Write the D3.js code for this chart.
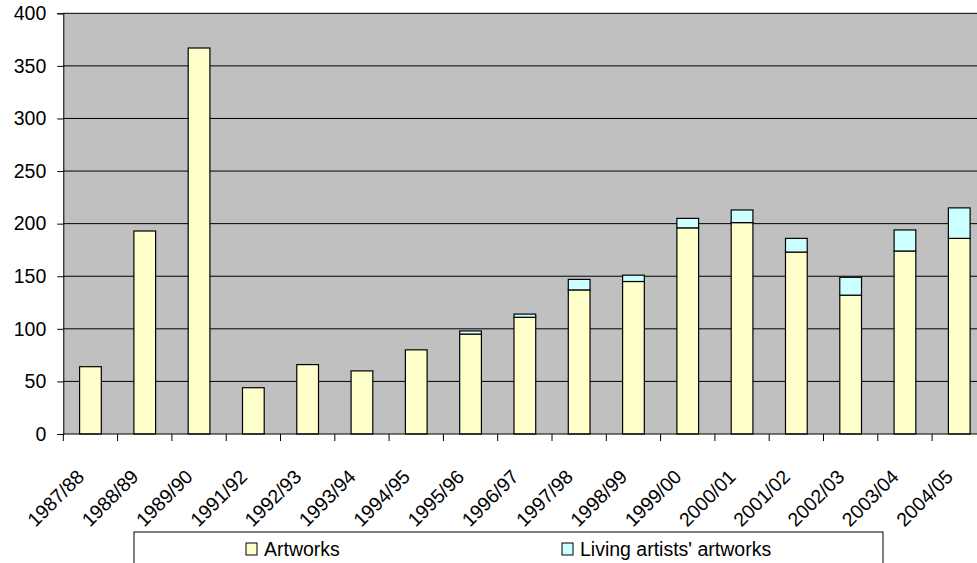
<!DOCTYPE html>
<html>
<head>
<meta charset="utf-8">
<script src="https://cdn.jsdelivr.net/npm/d3@7/dist/d3.min.js"></script>
<style>
  html, body { margin: 0; padding: 0; background: #fff; }
  svg { display: block; font-family: Arial, "Liberation Sans", sans-serif; }
</style>
</head>
<body>
<svg id="chart" width="977" height="563"></svg>
<script>
// Acquisitions per financial year
const years = ["1987/88","1988/89","1989/90","1991/92","1992/93","1993/94","1994/95",
  "1995/96","1996/97","1997/98","1998/99","1999/00","2000/01","2001/02","2002/03","2003/04","2004/05"];
const artworks = [64, 193, 367, 44, 66, 60, 80, 95, 111, 137, 145, 196, 201, 173, 132, 174, 186];
const livingArtists = [0, 0, 0, 0, 0, 0, 0, 3, 3, 10, 6, 9, 12, 13, 17, 20, 29];
const yTicks = [0, 50, 100, 150, 200, 250, 300, 350, 400];
const seriesNames = ["Artworks", "Living artists' artworks"];
const seriesColors = ["#FFFFCC", "#CCFFFF"];

const svg = d3.select("#chart");
const plot = { left: 63.3, top: 13.3, bottom: 434, right: 986.4 };

const x = d3.scaleBand().domain(years).range([plot.left, plot.right]).padding(0);
const y = d3.scaleLinear().domain([0, 400]).range([plot.bottom, plot.top]);

// plot background
svg.append("rect")
  .attr("x", plot.left).attr("y", plot.top)
  .attr("width", plot.right - plot.left).attr("height", plot.bottom - plot.top)
  .attr("fill", "#C0C0C0");

// horizontal gridlines
svg.append("g").selectAll("line").data(yTicks.filter(d => d > 0)).join("line")
  .attr("x1", plot.left).attr("x2", plot.right)
  .attr("y1", d => y(d)).attr("y2", d => y(d))
  .attr("stroke", "#000").attr("stroke-width", 1);

// stacked bars
const stackData = years.map((yr, i) => ({ year: yr, a: artworks[i], l: livingArtists[i] }));
const stack = d3.stack().keys(["a", "l"])(stackData);
const barW = x.bandwidth() * 0.4;
svg.append("g").selectAll("g").data(stack).join("g")
  .attr("fill", (d, i) => seriesColors[i])
  .selectAll("rect").data(d => d.filter(s => s[1] - s[0] > 0)).join("rect")
  .attr("x", d => x(d.data.year) + (x.bandwidth() - barW) / 2)
  .attr("width", barW)
  .attr("y", d => y(d[1]))
  .attr("height", d => y(d[0]) - y(d[1]))
  .attr("stroke", "#000").attr("stroke-width", 1.2);

// y axis
const yAxis = d3.axisLeft(y).tickValues(yTicks).tickSize(6).tickPadding(11).tickFormat(d3.format("d"));
const gy = svg.append("g").attr("transform", `translate(${plot.left},0)`).call(yAxis);
gy.select(".domain").attr("stroke", "#000");
gy.selectAll("text").attr("font-size", "19.5px").attr("fill", "#000")
  .attr("font-family", "Arial, 'Liberation Sans', sans-serif");

// x axis: ticks at category boundaries
const gx = svg.append("g");
gx.append("line").attr("x1", plot.left).attr("x2", plot.right)
  .attr("y1", plot.bottom).attr("y2", plot.bottom).attr("stroke", "#000");
gx.selectAll("line.tick").data(years.concat([null])).join("line")
  .attr("class", "tick")
  .attr("x1", (d, i) => plot.left + i * x.step())
  .attr("x2", (d, i) => plot.left + i * x.step())
  .attr("y1", plot.bottom).attr("y2", plot.bottom + 7)
  .attr("stroke", "#000");
gx.selectAll("text").data(years).join("text")
  .attr("text-anchor", "end")
  .attr("font-size", "19.5px")
  .attr("transform", d => {
    const ax = x(d) + x.bandwidth() / 2 - 5, ay = plot.bottom + 44;
    return `translate(${ax},${ay}) rotate(-45)`;
  })
  .text(d => d);

// legend
const lg = svg.append("g");
lg.append("rect").attr("x", 134).attr("y", 532).attr("width", 749).attr("height", 60)
  .attr("fill", "#fff").attr("stroke", "#000");
const legendX = [246, 562];
seriesNames.forEach((name, i) => {
  lg.append("rect").attr("x", legendX[i]).attr("y", 543).attr("width", 11).attr("height", 12)
    .attr("fill", seriesColors[i]).attr("stroke", "#000");
  lg.append("text").attr("x", legendX[i] + 18).attr("y", 556)
    .attr("font-size", "19.5px").text(name);
});
</script>
</body>
</html>
